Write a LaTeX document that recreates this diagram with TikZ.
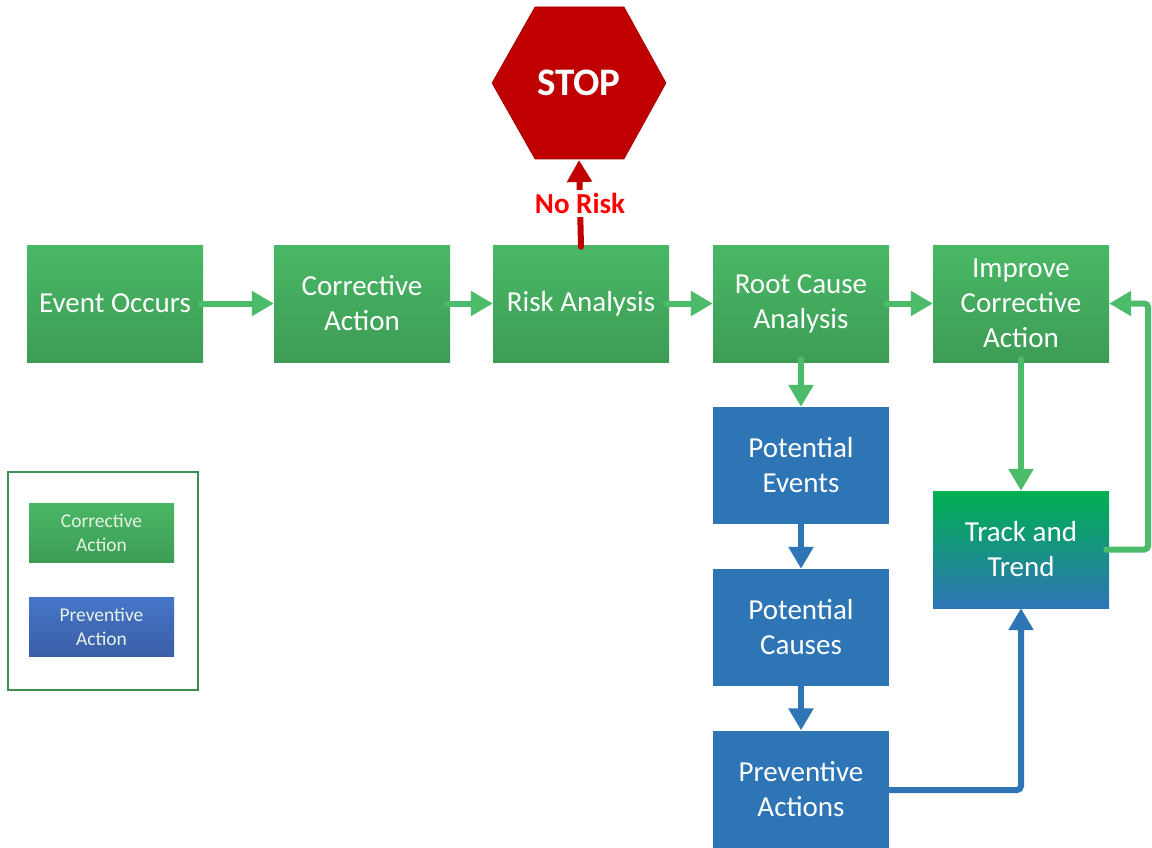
\documentclass[tikz,border=0pt]{standalone}
\usepackage{fontspec}
\setmainfont{Carlito}
\usetikzlibrary{arrows.meta}
\definecolor{gTop}{HTML}{49B865}
\definecolor{gBot}{HTML}{3D9C55}
\definecolor{gArrow}{HTML}{4CBB6A}
\definecolor{bBox}{HTML}{2E75B6}
\definecolor{bArrow}{HTML}{2E75B6}
\definecolor{ttTop}{HTML}{00B050}
\definecolor{stopRed}{HTML}{C00000}
\definecolor{noRisk}{HTML}{FF0000}
\definecolor{lgBlueTop}{HTML}{4675C8}
\definecolor{lgBlueBot}{HTML}{3A5EA6}
\definecolor{lgFrame}{HTML}{3E8E4F}
\definecolor{lgText}{HTML}{E6F2E6}
\tikzset{
  box/.style={minimum width=176pt, minimum height=117pt, inner sep=0pt, align=center,
    text=white, font=\fontsize{29}{35}\selectfont},
  greenbox/.style={box, top color=gTop, bottom color=gBot},
  bluebox/.style={box, fill=bBox},
  ttbox/.style={box, top color=ttTop, bottom color=bBox},
  legbox/.style={minimum width=145pt, minimum height=59pt, inner sep=0pt, align=center,
    text=lgText, font=\fontsize{19.5}{24}\selectfont},
  garrow/.style={draw=gArrow, line width=6pt, line cap=round,
    -{Triangle[width=24pt,length=22pt]}},
  barrow/.style={draw=bArrow, line width=6pt, line cap=round,
    -{Triangle[width=24pt,length=22pt]}},
  rarrow/.style={draw=stopRed, line width=6pt, line cap=round,
    -{Triangle[width=24pt,length=22pt]}},
}
\begin{document}
\begin{tikzpicture}[x=1pt,y=-1pt]
\useasboundingbox (0,0) rectangle (1152,848);
\clip (0,0) rectangle (1152,848);
% STOP hexagon
\fill[stopRed] (492,83) -- (535,7) -- (624,7) -- (666,83) -- (624,159) -- (535,159) -- cycle;
\draw[stopRed!80!black, line width=0.6pt] (492,83) -- (535,7) -- (624,7) -- (666,83) -- (624,159) -- (535,159) -- cycle;
\node[text=white, font=\fontsize{39}{44}\bfseries\selectfont] (stop) at (579,83) {STOP};
\coordinate (stopb) at (579,160);
% main boxes
\node[greenbox] (ev) at (115,303.5) {Event Occurs};
\node[greenbox] (ca) at (362,303.5) {Corrective\\Action};
\node[greenbox] (ra) at (581,303.5) {Risk Analysis};
\node[greenbox] (rc) at (801,303.5) {Root Cause\\Analysis};
\node[greenbox] (ic) at (1021,303.5) {Improve\\Corrective\\Action};
\node[bluebox] (pe) at (801,465.5) {Potential\\Events};
\node[bluebox] (pc) at (801,627.5) {Potential\\Causes};
\node[bluebox] (pa) at (801,789) {Preventive\\Actions};
\node[ttbox] (tt) at (1021,549.5) {Track and\\Trend};
% legend
\node[draw=lgFrame, line width=1.2pt, minimum width=190pt, minimum height=218pt, inner sep=0pt] (leg) at (103,581) {};
\node[legbox, top color=gTop, bottom color=gBot] (lgc) at (101.5,532.5) {Corrective\\Action};
\node[legbox, top color=lgBlueTop, bottom color=lgBlueBot] (lgp) at (101.5,627) {Preventive\\Action};
% connectors
\draw[garrow] ([xshift=-3pt]ev.east) -- (ca.west);
\draw[garrow] ([xshift=-3pt]ca.east) -- (ra.west);
\draw[garrow] ([xshift=-3pt]ra.east) -- (rc.west);
\draw[garrow] ([xshift=-3pt]rc.east) -- (ic.west);
\draw[garrow] ([yshift=3pt]rc.south) -- (pe.north);
\draw[garrow] ([yshift=3pt]ic.south) -- (tt.north);
\draw[garrow, rounded corners=4pt] ([xshift=-3pt]tt.east) -- ++(42,0) |- (ic.east);
\draw[barrow] ([yshift=3pt]pe.south) -- (pc.north);
\draw[barrow] ([yshift=3pt]pc.south) -- (pa.north);
\draw[barrow, rounded corners=4pt] ([xshift=-3pt,yshift=-1pt]pa.east) -| (tt.south);
\draw[rarrow] ([yshift=-2pt]ra.north) -- node[fill=white, inner sep=3pt, text=noRisk, font=\fontsize{29}{33}\bfseries\selectfont, pos=0.5] (nr) {No Risk} (stopb);
\end{tikzpicture}
\end{document}
